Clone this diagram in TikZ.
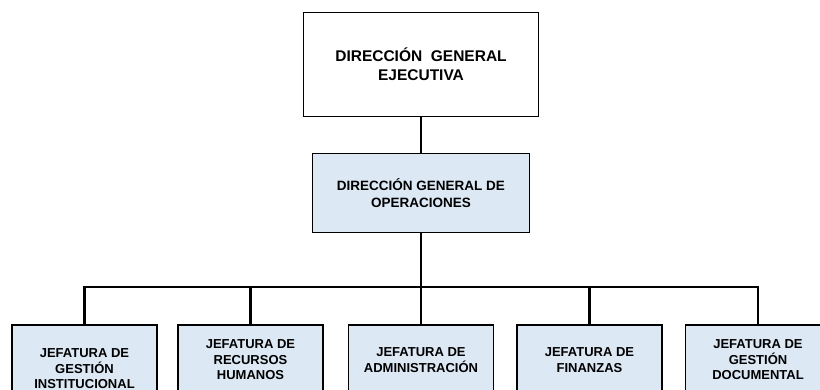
\documentclass[tikz,border=0pt]{standalone}
\usepackage{fontspec}
\setmainfont{Liberation Sans}
\definecolor{cajaazul}{RGB}{221,232,245}

\begin{document}
\begin{tikzpicture}[x=1pt,y=-1pt,
caja/.style={draw,line width=1.7pt,align=center,inner sep=0pt},
jefatura/.style={caja,fill=cajaazul,minimum width=145pt,minimum height=70pt,anchor=north,
  font=\fontsize{13}{15.5}\selectfont\bfseries},
linea/.style={line width=2.3pt}]
\useasboundingbox (0,0) rectangle (820,390);
\clip (0,0) rectangle (820,390);
% direcciones
\node[caja,minimum width=235pt,minimum height=104pt,font=\fontsize{15.5}{19}\selectfont\bfseries]
  (dge) at (421,64.5) {DIRECCIÓN~~GENERAL\\EJECUTIVA};
\node[caja,fill=cajaazul,minimum width=217pt,minimum height=79pt,font=\fontsize{13.5}{16.7}\selectfont\bfseries]
  (dgo) at (421,193) {DIRECCIÓN GENERAL DE\\OPERACIONES};
% jefaturas
\node[jefatura,minimum height=88pt] (jgi) at (84.5,324) {JEFATURA DE\\GESTIÓN\\INSTITUCIONAL};
\node[jefatura] (jrh) at (250.5,324) {JEFATURA DE\\RECURSOS\\HUMANOS};
\node[jefatura] (jad) at (421,324) {JEFATURA DE\\ADMINISTRACIÓN};
\node[jefatura] (jfi) at (589.5,324) {JEFATURA DE\\FINANZAS};
\node[jefatura] (jgd) at (758,324) {JEFATURA DE\\GESTIÓN\\DOCUMENTAL};
% conectores
\draw[linea] (dge.south) -- (dgo.north);
\draw[linea] (dgo.south) -- ++(0,54) coordinate (ramal);
\draw[linea] (jgi.north) |- (ramal) -| (jgd.north);
\draw[linea] (jrh.north) -- (jrh.north |- ramal);
\draw[linea] (jad.north) -- (jad.north |- ramal);
\draw[linea] (jfi.north) -- (jfi.north |- ramal);
\end{tikzpicture}
\end{document}
